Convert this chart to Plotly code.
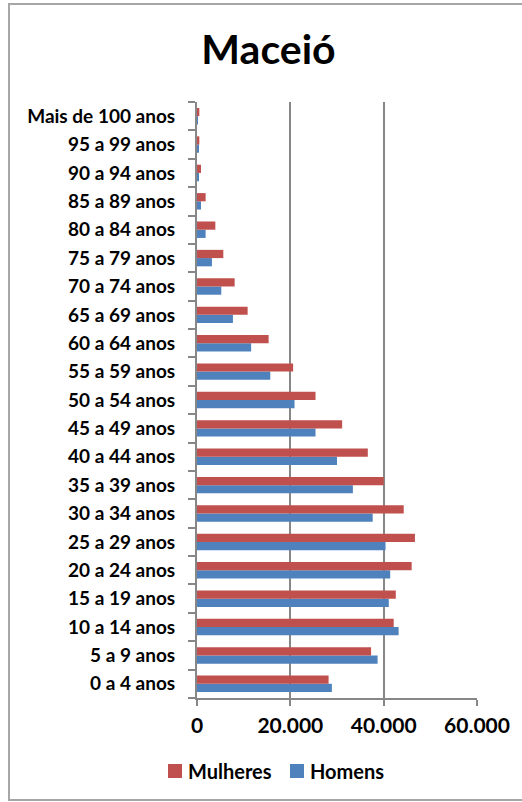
import plotly.graph_objects as go

# Age groups, youngest first (plotly puts the first category at the bottom)
faixas = [
    "0 a 4 anos", "5 a 9 anos", "10 a 14 anos", "15 a 19 anos", "20 a 24 anos",
    "25 a 29 anos", "30 a 34 anos", "35 a 39 anos", "40 a 44 anos", "45 a 49 anos",
    "50 a 54 anos", "55 a 59 anos", "60 a 64 anos", "65 a 69 anos", "70 a 74 anos",
    "75 a 79 anos", "80 a 84 anos", "85 a 89 anos", "90 a 94 anos", "95 a 99 anos",
    "Mais de 100 anos",
]

mulheres = [
    28200, 37300, 42150, 42600, 46000, 46700, 44300, 40000, 36600, 31100,
    25400, 20600, 15350, 10850, 8070, 5640, 3930, 1850, 860, 500, 500,
]

homens = [
    28900, 38700, 43200, 41100, 41400, 40400, 37650, 33400, 30000, 25400,
    20900, 15700, 11600, 7700, 5200, 3200, 1850, 860, 400, 300, 200,
]

x_ticks = [0, 20000, 40000, 60000]

VERMELHO = "#C0504D"
AZUL = "#4F81BD"
CINZA = "#878787"
FONTE = "Lato"

fig = go.Figure()
fig.add_trace(go.Bar(y=faixas, x=homens, name="Homens", orientation="h",
                     marker=dict(color=AZUL, line=dict(width=0))))
fig.add_trace(go.Bar(y=faixas, x=mulheres, name="Mulheres", orientation="h",
                     marker=dict(color=VERMELHO, line=dict(width=0))))

W, H = 522, 802
L, R, T, B = 197, 45, 102, 104
pw, ph = W - L - R, H - T - B


def px_x(p):
    return (p - L) / pw


def px_y(p):
    return (H - B - p) / ph


# legend below the axis: coloured square + series name
legenda = [("Mulheres", VERMELHO, 168), ("Homens", AZUL, 290)]
LEG_Y = 771
shapes = [dict(type="rect", xref="paper", yref="paper",
               x0=px_x(9), x1=px_x(530), y0=px_y(800), y1=px_y(4),
               line=dict(color="#A6A6A6", width=2), fillcolor="rgba(0,0,0,0)",
               layer="below")]
annotations = []
for nome, cor, x0 in legenda:
    shapes.append(dict(type="rect", xref="paper", yref="paper",
                       x0=px_x(x0), x1=px_x(x0 + 14),
                       y0=px_y(LEG_Y + 7), y1=px_y(LEG_Y - 7),
                       line=dict(width=0), fillcolor=cor))
    annotations.append(dict(text=f"<b>{nome}</b>", xref="paper", yref="paper",
                            x=px_x(x0 + 18), y=px_y(LEG_Y), xanchor="left",
                            yanchor="middle", showarrow=False,
                            font=dict(size=20, family=FONTE, color="#000000")))

fig.update_layout(
    width=W, height=H,
    margin=dict(l=L, r=R, t=T, b=B, pad=0),
    paper_bgcolor="white", plot_bgcolor="white",
    separators=",.",
    barmode="group", bargap=0.42, bargroupgap=0,
    font=dict(family=FONTE, color="#000000"),
    title=dict(text="<b>Maceió</b>", x=268.5 / W, xanchor="center",
               y=1 - 50 / H, yanchor="middle", yref="container",
               font=dict(size=41, family=FONTE, color="#000000")),
    showlegend=False,
    shapes=shapes,
    annotations=annotations,
)

fig.update_xaxes(
    range=[0, 60000], tickvals=x_ticks, tickformat=",d",
    showgrid=True, gridcolor=CINZA, gridwidth=2, zeroline=False,
    showline=True, linecolor=CINZA, linewidth=2,
    ticks="outside", ticklen=6, tickwidth=2, tickcolor=CINZA,
    ticklabelstandoff=2,
    tickfont=dict(size=21, family=FONTE, weight="bold"),
    fixedrange=True,
)

fig.update_yaxes(
    type="category", categoryorder="array", categoryarray=faixas,
    showgrid=False, zeroline=False,
    showline=True, linecolor=CINZA, linewidth=2,
    ticks="outside", tickson="boundaries", ticklen=7, tickwidth=1.5, tickcolor=CINZA,
    ticklabelstandoff=16,
    tickfont=dict(size=19, family=FONTE, weight="bold"),
    fixedrange=True,
)

fig.write_html("out.html")
